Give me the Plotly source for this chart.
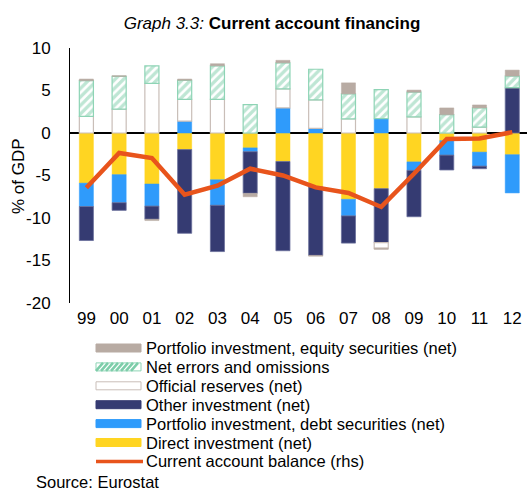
import plotly.graph_objects as go

# years shown on the axis
years = ["99", "00", "01", "02", "03", "04", "05", "06", "07", "08", "09", "10", "11", "12"]

# financing components, % of GDP
direct_inv = [-5.9, -4.9, -6.0, -1.95, -5.5, -1.75, -3.35, -6.35, -7.8, -6.55, -3.4, -0.9, -2.25, -2.55]
portfolio_debt = [-2.75, -3.3, -2.6, 1.4, -3.0, -0.45, 2.95, 0.55, -1.95, 1.7, -1.0, -1.7, -1.65, -4.5]
other_inv = [-4.0, -0.9, -1.55, -9.85, -5.45, -4.9, -10.5, -8.05, -3.2, -6.35, -5.45, -1.75, -0.3, 5.35]
official_res = [1.95, 2.8, 5.85, 2.55, 3.95, 0.0, 2.25, 3.35, 1.65, -0.65, 1.9, 0.0, 0.7, 0.0]
net_errors = [4.2, 3.85, 2.05, 2.25, 3.95, 3.35, 3.05, 3.6, 2.95, 3.4, 2.9, 2.15, 2.25, 1.35]
portfolio_equity = [0.2, 0.1, -0.15, 0.15, 0.25, -0.4, 0.3, -0.1, 1.3, -0.15, 0.25, 0.8, 0.35, 0.7]

# current account balance
ca_balance = [-6.45, -2.35, -2.95, -7.25, -6.2, -4.2, -5.0, -6.4, -7.05, -8.7, -4.8, -0.7, -0.65, 0.1]

y_ticks = [-20, -15, -10, -5, 0, 5, 10]

W, H = 527, 492
L, T, R = 70, 48, 0
B = H - 303
PW, PH = W - L - R, H - T - B

YELLOW, BLUE, NAVY = "#FFD522", "#2F9BFB", "#353B72"
GREY, GREEN, ORANGE = "#B8ABA3", "#7DCDA9", "#E8541C"


def px_x(v):
    # window pixel -> paper x
    return (v - L) / PW


def px_y(v):
    # window pixel -> paper y
    return (H - B - v) / PH


xs = list(range(len(years)))

fig = go.Figure()

fig.add_trace(go.Bar(x=xs, y=direct_inv, name="Direct investment (net)",
                     marker=dict(color=YELLOW, line=dict(color=YELLOW, width=0.5))))
fig.add_trace(go.Bar(x=xs, y=portfolio_debt, name="Portfolio investment, debt securities (net)",
                     marker=dict(color=BLUE, line=dict(color=BLUE, width=0.5))))
fig.add_trace(go.Bar(x=xs, y=other_inv, name="Other investment (net)",
                     marker=dict(color=NAVY, line=dict(color="#6a6f9a", width=0.8))))
fig.add_trace(go.Bar(x=xs, y=official_res, name="Official reserves (net)",
                     marker=dict(color="white", line=dict(color="#C9BEB8", width=1.2))))
fig.add_trace(go.Bar(x=xs, y=net_errors, name="Net errors and omissions",
                     marker=dict(color="white", line=dict(color="#8ED4B5", width=1.2),
                                 pattern=dict(shape="/", fgcolor=GREEN, bgcolor="white",
                                              size=6, solidity=0.55))))
fig.add_trace(go.Bar(x=xs, y=portfolio_equity, name="Portfolio investment, equity securities (net)",
                     marker=dict(color=GREY, line=dict(color=GREY, width=0.5))))

fig.add_trace(go.Scatter(x=xs, y=ca_balance, mode="lines", name="Current account balance (rhs)",
                         line=dict(color=ORANGE, width=4.5)))

fig.update_layout(
    width=W, height=H,
    barmode="relative",
    bargap=0.57,
    plot_bgcolor="white",
    paper_bgcolor="white",
    font=dict(family="Liberation Sans, Arial, sans-serif", size=17, color="black"),
    margin=dict(l=L, r=R, t=T, b=B, autoexpand=False),
    title=dict(text="<i>Graph 3.3:</i> <b>Current account financing</b>",
               x=272 / W, xanchor="center", y=1 - 23 / H, yanchor="middle",
               font=dict(size=17)),
    showlegend=False,
)

fig.update_xaxes(
    tickmode="array", tickvals=xs, ticktext=years,
    range=[-0.5, 13.45], showgrid=False, showline=False, zeroline=False,
    ticks="", ticklabelstandoff=3, tickfont=dict(size=17), ticklabeloverflow="allow",
)
fig.update_yaxes(
    range=[-20, 10], tickmode="array", tickvals=y_ticks,
    ticktext=[str(v) for v in y_ticks], showgrid=False,
    showline=True, linecolor="black", linewidth=1,
    zeroline=True, zerolinecolor="black", zerolinewidth=1.5,
    ticks="", ticklabelstandoff=15, tickfont=dict(size=17),
)

# y axis title
fig.add_annotation(text="% of GDP", xref="paper", yref="paper",
                   x=px_x(18), y=px_y(176), textangle=-90, showarrow=False,
                   xanchor="center", yanchor="middle", font=dict(size=17))

# legend drawn by hand so the wide swatches and tight rows match
legend_rows = [
    ("Portfolio investment, equity securities (net)", "box", GREY, GREY),
    ("Net errors and omissions", "hatch", GREEN, "#8ED4B5"),
    ("Official reserves (net)", "box", "white", "#C9BEB8"),
    ("Other investment (net)", "box", NAVY, NAVY),
    ("Portfolio investment, debt securities (net)", "box", BLUE, BLUE),
    ("Direct investment (net)", "box", YELLOW, YELLOW),
    ("Current account balance (rhs)", "line", ORANGE, ORANGE),
]
row_y0, row_step = 348, 18.9
sw_x0, sw_x1, txt_x = 96, 141, 144
for i, (label, kind, fill, edge) in enumerate(legend_rows):
    cy = row_y0 + i * row_step
    if kind == "line":
        fig.add_shape(type="line", xref="paper", yref="paper",
                      x0=px_x(sw_x0), x1=px_x(sw_x1 + 2), y0=px_y(cy), y1=px_y(cy),
                      line=dict(color=fill, width=3.5))
    elif kind == "hatch":
        fig.add_shape(type="rect", xref="paper", yref="paper",
                      x0=px_x(sw_x0), x1=px_x(sw_x1), y0=px_y(cy - 4), y1=px_y(cy + 4),
                      fillcolor="white", line=dict(color=edge, width=1))
        for sx in range(sw_x0, sw_x1 - 7, 5):
            fig.add_shape(type="line", xref="paper", yref="paper",
                          x0=px_x(sx), x1=px_x(sx + 7), y0=px_y(cy + 4), y1=px_y(cy - 4),
                          line=dict(color=fill, width=2.5))
    else:
        fig.add_shape(type="rect", xref="paper", yref="paper",
                      x0=px_x(sw_x0), x1=px_x(sw_x1), y0=px_y(cy - 4), y1=px_y(cy + 4),
                      fillcolor=fill, line=dict(color=edge, width=1))
    fig.add_annotation(text=label, xref="paper", yref="paper",
                       x=px_x(txt_x), y=px_y(cy), xanchor="left", yanchor="middle",
                       showarrow=False, font=dict(size=16.5))

fig.add_annotation(text="Source: Eurostat", xref="paper", yref="paper",
                   x=px_x(34), y=px_y(482), xanchor="left", yanchor="middle",
                   showarrow=False, font=dict(size=16.5))

# drop the default page margin so the figure sits flush in the window
fig.write_html("out.html", config={"displayModeBar": False},
               post_script="document.body.style.margin='0';document.body.style.overflow='hidden';")
